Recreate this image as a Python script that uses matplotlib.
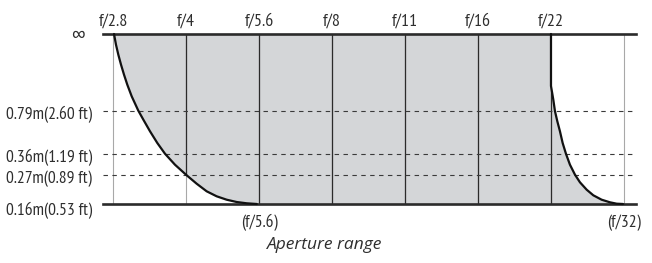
import numpy as np
import matplotlib
matplotlib.use("Agg")
import matplotlib.pyplot as pp
from matplotlib.patches import Polygon

# aperture stops along the x axis (index positions 0..7)
APERTURES   = ["f/2.8", "f/4", "f/5.6", "f/8", "f/11", "f/16", "f/22"]
MIN_LABELS  = ["(f/5.6)", "(f/32)"]
MIN_STOPS   = [2, 7]
# focus distances on the vertical scale (schematic level, bottom = closest)
DIST_LABELS = ["0.16m(0.53 ft)", "0.27m(0.89 ft)", "0.36m(1.19 ft)", "0.79m(2.60 ft)"]
DIST_LEVELS = [0, 29, 50, 93]
INF_LEVEL   = 170

# closest focus limit when opening up (left edge of the usable area)
near_x = [0.014, 0.041, 0.073, 0.110, 0.151, 0.196, 0.256, 0.347, 0.416, 0.507,
          0.607, 0.712, 0.849, 1.000, 1.146, 1.283, 1.420, 1.557, 1.694, 1.832, 1.97]
near_y = [170, 159.3, 149.3, 139.3, 129.3, 119.3, 107.7, 93.3, 84.3, 72.7,
          61, 50.3, 39.3, 29.3, 20.3, 12.7, 7.7, 4.3, 2, 0.7, 0]
# closest focus limit when stopping down (right edge of the usable area)
far_x = [6.986, 6.900, 6.808, 6.694, 6.580, 6.489, 6.397, 6.329, 6.260, 6.205,
         6.160, 6.123, 6.087, 6.055, 6.032, 6.012, 6.0, 6.0]
far_y = [0, 0.3, 1.7, 4.3, 8.7, 14.3, 21.7, 29.3, 39.3, 50.3,
         61, 72.7, 82.7, 92.7, 104.3, 113, 118, 170]

DARK  = "#2b2b2b"
FILL  = "#d4d6d8"
LIGHT = "#a8a8a8"
TXT   = "#2e2e2e"
FONT  = ["PT Sans Narrow", "DejaVu Sans"]
FS    = 12.6


def main():
  fig = pp.figure(figsize=(6.52, 2.63), dpi=100)
  ax = fig.add_axes([0, 0, 1, 1])
  ax.set_xlim(-1.548, 7.384)
  ax.set_ylim(-59, 204)
  ax.axis("off")

  # usable area
  poly = np.vstack([np.column_stack([near_x, near_y]),
                    np.column_stack([far_x, far_y])])
  patch = Polygon(poly, closed=True, facecolor=FILL, edgecolor="none", zorder=1)
  ax.add_patch(patch)

  stops = np.arange(len(APERTURES) + 1)
  # light grid lines everywhere, dark ones only inside the usable area
  for s in stops:
    ax.plot([s, s], [0, INF_LEVEL], color=LIGHT, lw=0.8, zorder=2)
    ln, = ax.plot([s, s], [0, INF_LEVEL], color=DARK, lw=0.9, zorder=3)
    ln.set_clip_path(patch)

  x0, x1 = -0.137, 7.164
  for lv in DIST_LEVELS[1:]:
    ax.plot([x0, x1], [lv, lv], color="#3a3a3a", lw=0.8, dashes=(4, 4), zorder=4)
  ax.plot([x0, x1], [INF_LEVEL, INF_LEVEL], color=DARK, lw=1.9, zorder=5)
  ax.plot([x0, x1], [0, 0], color=DARK, lw=1.9, zorder=5)

  ax.plot(near_x, near_y, color="#111111", lw=1.6, zorder=6, solid_capstyle="round")
  ax.plot(far_x, far_y, color="#111111", lw=1.6, zorder=6, solid_capstyle="round")

  # labels
  for s, lab in enumerate(APERTURES):
    ax.text(s, 178, lab, ha="center", va="baseline", fontsize=13,
            family=FONT, color=TXT)
  for lv, lab in zip(DIST_LEVELS, DIST_LABELS):
    off = 7 if lv == 0 else 4
    ax.text(-0.288, lv - off, lab, ha="right", va="center", fontsize=FS,
            family=FONT, color=TXT)
  ax.text(-0.48, INF_LEVEL - 2, "\u221e", ha="center", va="center", fontsize=14,
          family=FONT, color=TXT)
  for s, lab in zip(MIN_STOPS, MIN_LABELS):
    ax.text(s, -19, lab, ha="center", va="center", fontsize=FS,
            family=FONT, color=TXT)
  ax.text(2.9, -41, "Aperture range", ha="center", va="center", fontsize=12.5,
          family=["Open Sans", "DejaVu Sans"], style="italic", color=TXT)

  fig.savefig("out.png", dpi=100)


if __name__ == "__main__":
  main()
